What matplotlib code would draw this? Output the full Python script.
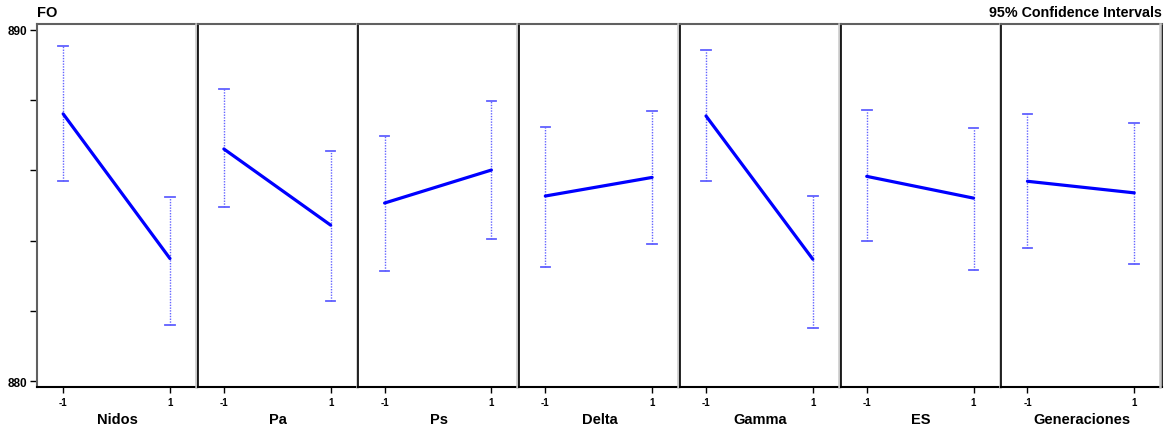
import matplotlib.pyplot as plt

plt.rcParams["font.family"] = ["Liberation Sans", "DejaVu Sans"]

# factors and their two levels
factors = ["Nidos", "Pa", "Ps", "Delta", "Gamma", "ES", "Generaciones"]
levels = [-1, 1]

# mean FO at level -1 / 1
means = [
    [887.61, 883.49],
    [886.61, 884.44],
    [885.07, 886.01],
    [885.27, 885.80],
    [887.55, 883.47],
    [885.83, 885.21],
    [885.69, 885.36],
]
# 95% CI bounds (lower, upper) per level
ci_low = [
    [885.71, 881.60],
    [884.95, 882.29],
    [883.13, 884.05],
    [883.24, 883.91],
    [885.71, 881.52],
    [883.98, 883.15],
    [883.80, 883.33],
]
ci_high = [
    [889.55, 885.25],
    [888.33, 886.54],
    [886.98, 887.98],
    [887.25, 887.68],
    [889.44, 885.28],
    [887.71, 887.22],
    [887.60, 887.36],
]

fig = plt.figure(figsize=(11.68, 4.27), dpi=100)
left, right = 37 / 1168, 1162 / 1168
bottom, top = 1 - 388 / 427, 1 - 25 / 427
w = (right - left) / len(factors)

axes = []
for i, name in enumerate(factors):
    ax = fig.add_axes([left + i * w, bottom, w, top - bottom])
    axes.append(ax)
    ax.set_xlim(-1.49, 1.52)
    ax.set_ylim(879.83, 890.17)

    for j, lv in enumerate(levels):
        ax.plot([lv, lv], [ci_low[i][j], ci_high[i][j]], color="#6464ff",
                linestyle=(0, (1, 1)), linewidth=1)
        for cap in (ci_low[i][j], ci_high[i][j]):
            ax.plot([lv - 0.09, lv + 0.09], [cap, cap], color="#6060ff", linewidth=1.3)
    ax.plot(levels, means[i], color="#0000ff", linewidth=2.3, solid_capstyle="round")

    ax.set_xticks(levels)
    ax.set_xticklabels(["-1", "1"], fontsize=7, fontweight="bold")
    ax.tick_params(axis="x", length=4, width=1, pad=3)
    ax.set_xlabel(name, fontsize=10.5, fontweight="bold", labelpad=4)

    if i == 0:
        ax.set_yticks([880, 882, 884, 886, 888, 890])
        ax.set_yticklabels(["880", "", "", "", "", "890"], fontsize=8.5, fontweight="bold")
        ax.tick_params(axis="y", length=5, width=1, pad=2)
        ax.spines["left"].set_color("#606060")
        ax.spines["left"].set_linewidth(1.5)
    else:
        ax.set_yticks([])
        ax.spines["left"].set_color("black")
        ax.spines["left"].set_linewidth(1.2)

    ax.spines["top"].set_color("#606060")
    ax.spines["top"].set_linewidth(1.5)
    ax.spines["bottom"].set_color("black")
    ax.spines["bottom"].set_linewidth(1.5)
    ax.spines["right"].set_color("black")
    ax.spines["right"].set_linewidth(1.2)

# light gray shadow just left of each panel divider
for ax in axes:
    ax.plot([0.989, 0.989], [0, 1], transform=ax.transAxes, color="#c8c8c8",
            linewidth=1.8, clip_on=False, zorder=5)

fig.text(left, 1 - 13 / 427, "FO", fontsize=10.5, fontweight="bold",
         ha="left", va="center")
fig.text(right, 1 - 13 / 427, "95% Confidence Intervals", fontsize=10.3,
         fontweight="bold", ha="right", va="center")

fig.savefig("out.png", dpi=100)
